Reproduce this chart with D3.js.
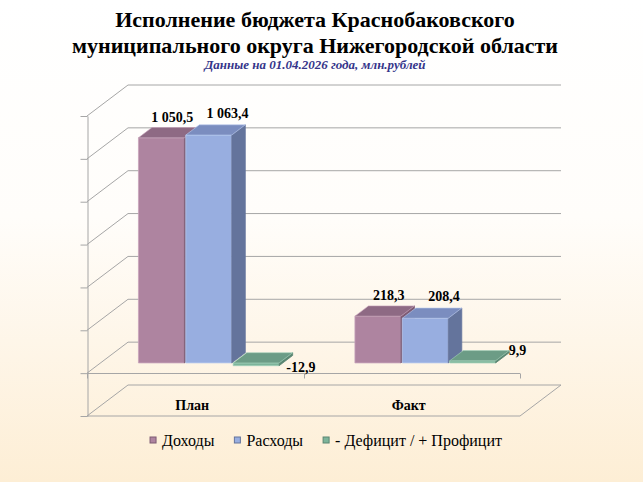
<!DOCTYPE html>
<html>
<head>
<meta charset="utf-8">
<script src="https://cdn.jsdelivr.net/npm/d3@7"></script>
<style>
  body { margin: 0; padding: 0; }
  svg { display: block; }
</style>
</head>
<body>
<svg id="budget" width="643" height="482"></svg>
<script>
// data
var categories = ["План", "Факт"];
var seriesNames = ["Доходы", "Расходы", "- Дефицит / + Профицит"];
var incomeValues = [1050.5, 218.3];
var expenseValues = [1063.4, 208.4];
var balanceValues = [-12.9, 9.9];
var valueTicks = [-200, 0, 200, 400, 600, 800, 1000, 1200];

var seriesValues = [incomeValues, expenseValues, balanceValues];

var FONT = "'Liberation Serif', 'Times New Roman', serif";
var colors = [
  {front: "#ae84a0", top: "#8e6a84", side: "#7d5b73", edge: "#c8a3bb"},
  {front: "#98aee0", top: "#7b8dbf", side: "#64749c", edge: "#b9caee"},
  {front: "#7db49a", top: "#6c9c86", side: "#5a8672", edge: "#a3d0ba"}
];
var labelDx = [4, 12, 38];
var labelDy = [-6, -7, 4];

var ru = d3.formatLocale({decimal: ",", thousands: " ", grouping: [3], currency: ["", ""], minus: "-"});
var fmt = ru.format(",.1f");

var svg = d3.select("#budget"),
    W = +svg.attr("width"),
    H = +svg.attr("height");

// background
var defs = svg.append("defs");
var bg = defs.append("linearGradient").attr("id", "bg")
    .attr("x1", 0).attr("y1", 0).attr("x2", 0).attr("y2", 1);
bg.append("stop").attr("offset", "0%").attr("stop-color", "#ffffff");
bg.append("stop").attr("offset", "45%").attr("stop-color", "#fffdfa");
bg.append("stop").attr("offset", "100%").attr("stop-color", "#fdeed5");
svg.append("rect").attr("width", W).attr("height", H).attr("fill", "url(#bg)");

// titles
var titles = svg.append("g").attr("font-family", FONT).attr("text-anchor", "middle");
titles.append("text").attr("x", 315).attr("y", 27)
    .attr("font-size", 22).attr("font-weight", "bold").attr("fill", "#000")
    .text("Исполнение бюджета Краснобаковского");
titles.append("text").attr("x", 315).attr("y", 53)
    .attr("font-size", 22).attr("font-weight", "bold").attr("fill", "#000")
    .text("муниципального округа Нижегородской области");
titles.append("text").attr("x", 315).attr("y", 69)
    .attr("font-size", 13).attr("font-weight", "bold").attr("font-style", "italic")
    .attr("fill", "#35358a")
    .text("Данные на 01.04.2026 года, млн.рублей");

// 3d frame
var DX = 41, DY = -31;     // depth offset of the back wall
var z0 = 0.33, z1 = 0.66;  // depth of the bars

var x = d3.scaleBand().domain(categories).range([87, 520]);
var xs = d3.scaleBand().domain(d3.range(seriesNames.length))
    .range([0, x.bandwidth()]).paddingOuter(0.8).paddingInner(0.03);
var y = d3.scaleLinear().domain([-200, 1200]).range([416, 116]);

function proj(px, v, z) { return [px + DX * z, y(v) + DY * z]; }

var grid = svg.append("g").attr("stroke", "#a6a6a6").attr("stroke-width", 1).attr("fill", "none");
var x0 = x.range()[0], x1 = x.range()[1];

// back wall gridlines + side wall diagonals
valueTicks.forEach(function(v) {
  var a = proj(x0, v, 0), b = proj(x0, v, 1), c = proj(x1, v, 1);
  grid.append("path").attr("d", d3.line()([a, b, c]));
});
// floor front edge and right edge
var vmin = y.domain()[0];
grid.append("path").attr("d", d3.line()([proj(x0, vmin, 0), proj(x1, vmin, 0), proj(x1, vmin, 1)]));

// front value axis (no labels)
svg.append("g")
    .attr("transform", "translate(" + (x0 + 0.5) + ",0)")
    .call(d3.axisLeft(y).tickValues(valueTicks).tickFormat("").tickSize(7).tickSizeOuter(0))
    .call(function(g) { g.selectAll("line, path").attr("stroke", "#a6a6a6"); });

// category axis at zero
var yz = Math.round(y(0)) + 0.5;
var catAxis = svg.append("g").attr("stroke", "#a6a6a6").attr("fill", "none");
catAxis.append("line").attr("x1", x0).attr("x2", x1).attr("y1", yz).attr("y2", yz);
categories.map(function(c) { return x(c); }).concat([x1]).forEach(function(px) {
  catAxis.append("line").attr("x1", Math.round(px) + 0.5).attr("x2", Math.round(px) + 0.5)
      .attr("y1", yz).attr("y2", yz + 5);
});

svg.append("g").attr("font-family", FONT).selectAll("text")
  .data(categories)
  .enter().append("text")
    .attr("x", function(d) { return x(d) + x.bandwidth() / 2 - 3; })
    .attr("y", 410)
    .attr("text-anchor", "middle")
    .attr("font-size", 14)
    .attr("font-weight", "bold")
    .text(function(d) { return d; });

// bars
var bars = svg.append("g").attr("font-family", FONT);
var poly = function(pts) { return "M" + pts.map(function(p) { return p[0] + "," + p[1]; }).join("L") + "Z"; };

categories.forEach(function(cat, ci) {
  seriesValues.forEach(function(vals, si) {
    var v = vals[ci];
    var l = x(cat) + xs(si), r = l + xs.bandwidth();
    var hi = Math.max(0, v), lo = Math.min(0, v);
    var col = colors[si];
    var g = bars.append("g").attr("stroke-linejoin", "round");
    // front
    g.append("path")
        .attr("d", poly([proj(l, lo, z0), proj(r, lo, z0), proj(r, hi, z0), proj(l, hi, z0)]))
        .attr("fill", col.front).attr("stroke", col.edge).attr("stroke-width", 0.8);
    // right side
    g.append("path")
        .attr("d", poly([proj(r, lo, z0), proj(r, lo, z1), proj(r, hi, z1), proj(r, hi, z0)]))
        .attr("fill", col.side).attr("stroke", col.side).attr("stroke-width", 0.8);
    // top
    g.append("path")
        .attr("d", poly([proj(l, hi, z0), proj(r, hi, z0), proj(r, hi, z1), proj(l, hi, z1)]))
        .attr("fill", col.top).attr("stroke", col.edge).attr("stroke-width", 0.6);

    // value label
    var cx = (l + r) / 2 + DX * (z0 + z1) / 2 + labelDx[si];
    var ly = v < 0 ? proj(l, v, z0)[1] + 6 : proj(l, v, z1)[1] + labelDy[si];
    bars.append("text")
        .attr("x", cx).attr("y", ly)
        .attr("text-anchor", "middle")
        .attr("font-size", 14).attr("font-weight", "bold")
        .text(fmt(v));
  });
});

// legend
var legend = svg.append("g").attr("font-family", FONT).attr("font-size", 16);
var items = legend.selectAll("g").data(seriesNames).enter().append("g");
items.append("rect").attr("width", 6).attr("height", 6).attr("y", -9)
    .attr("fill", function(d, i) { return colors[i].front; })
    .attr("stroke", function(d, i) { return colors[i].side; }).attr("stroke-width", 1);
items.append("text").attr("x", 12).attr("y", 0).text(function(d) { return d; });

var pos = 0, offsets = [];
items.each(function(d, i) {
  offsets.push(pos);
  pos += 12 + this.querySelector("text").getComputedTextLength() + 20;
});
var total = pos - 20, start = 326 - total / 2;
items.attr("transform", function(d, i) { return "translate(" + (start + offsets[i]) + ",446)"; });
</script>
</body>
</html>
